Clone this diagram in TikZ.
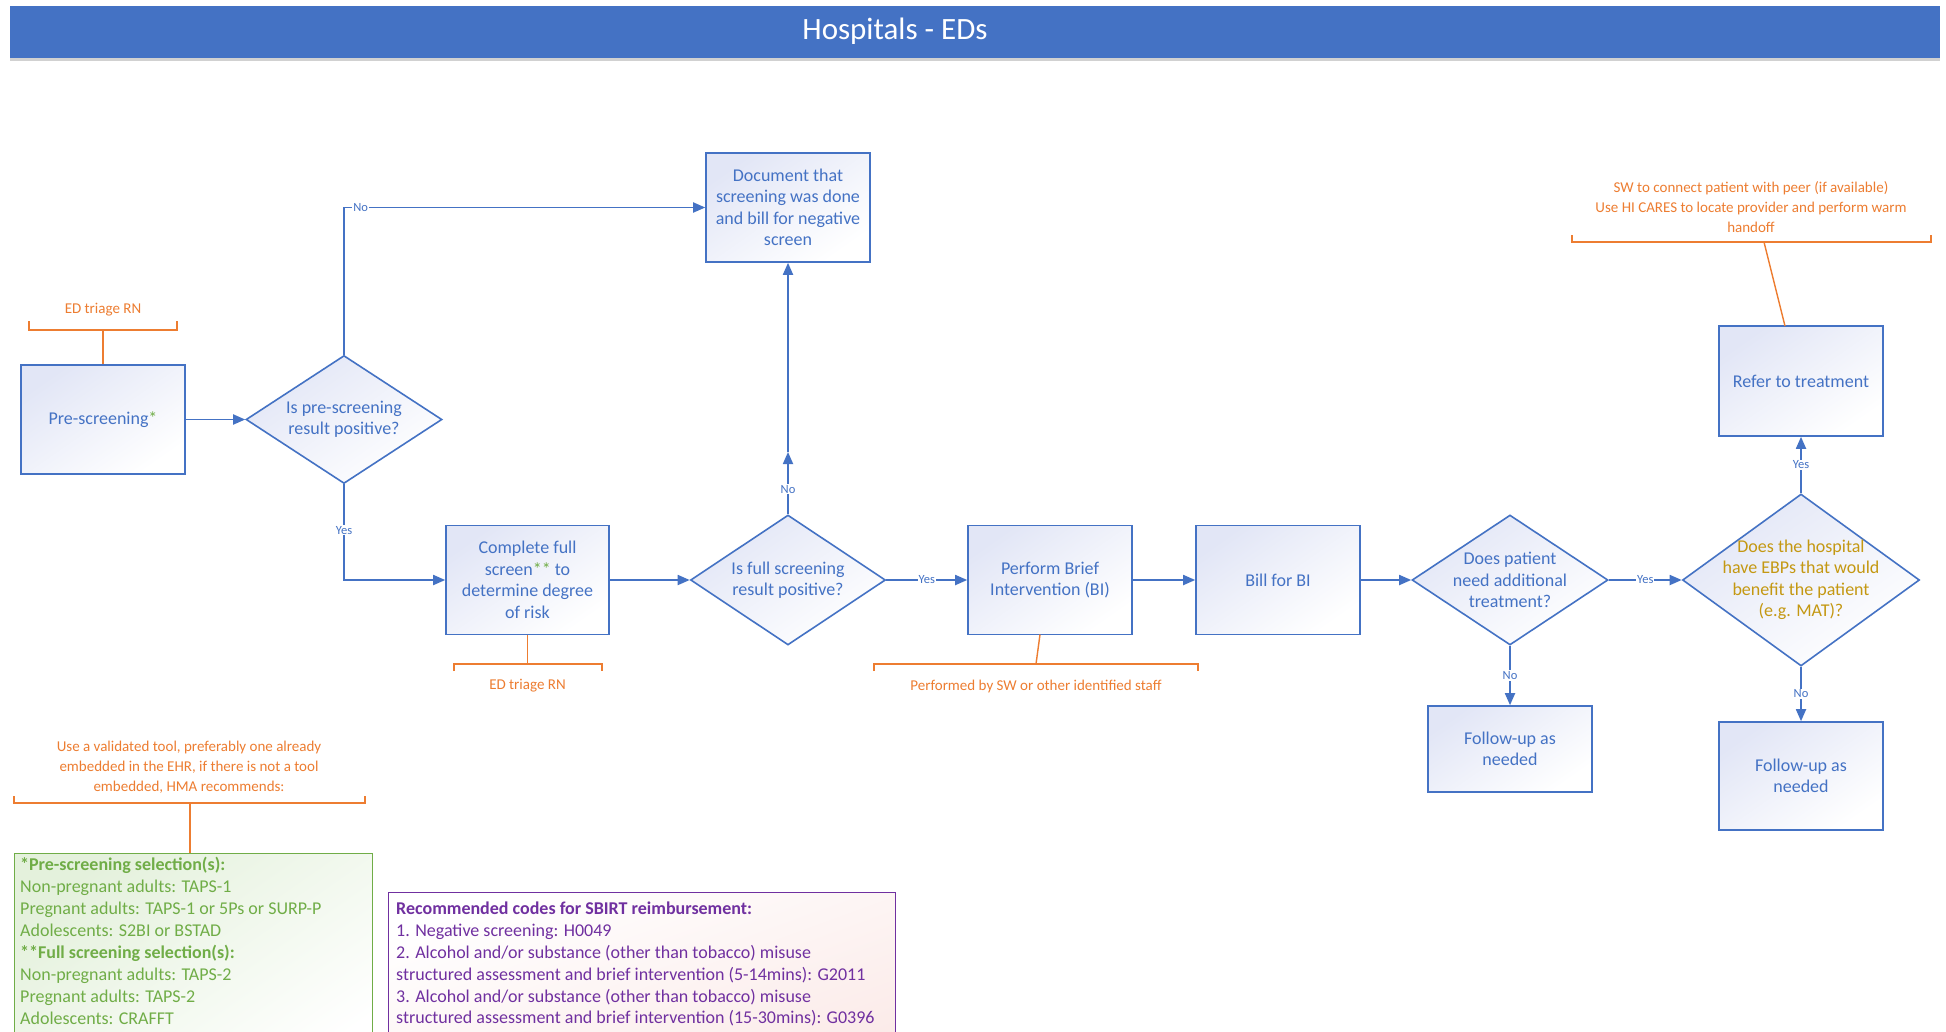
\documentclass[tikz,border=0pt]{standalone}
\usepackage{fontspec}
\setmainfont{Carlito}
\usetikzlibrary{shapes.geometric,arrows.meta,positioning}
\definecolor{edblue}{RGB}{68,114,196}
\definecolor{edorange}{RGB}{237,125,49}
\definecolor{edgreen}{RGB}{112,173,71}
\definecolor{edpurple}{RGB}{112,48,160}
\definecolor{edgold}{RGB}{196,152,18}
\definecolor{edfill}{RGB}{226,230,246}
\definecolor{grfill}{RGB}{228,241,220}
\definecolor{pufill}{RGB}{251,234,232}

\begin{document}
\begin{tikzpicture}[x=1pt,y=-1pt,
		box/.style={draw=edblue, line width=1.6pt, top color=edfill, bottom color=white, shading angle=35,
			minimum width=164, minimum height=109, inner sep=2pt, align=center, text=edblue,
			font=\fontsize{18}{21.5}\selectfont},
		dia/.style={diamond, draw=edblue, line width=1.6pt, top color=edfill, bottom color=white, shading angle=35,
			inner sep=0pt, text=edblue},
		diatext/.style={align=center, text=edblue, font=\fontsize{18}{21.5}\selectfont},
		flow/.style={draw=edblue, line width=1.8pt, -{Triangle[length=12pt,width=10pt]}},
		yn/.style={fill=white, inner sep=1pt, text=edblue, font=\fontsize{12.5}{14}\selectfont},
		note/.style={draw=edorange, line width=1.4pt},
		lbl/.style={text=edorange, align=center, font=\fontsize{15}{19.8}\selectfont}]
		\path[use as bounding box, clip] (0,0) rectangle (1946,1031);
		\fill[white] (0,0) rectangle (1946,1031);
		\fill[black!18] (10,58) rectangle (1940,61);
		\node[fill=edblue, anchor=north west, minimum width=1930, minimum height=52, inner sep=0] (bar) at (10,6) {};
		\node[text=white, font=\fontsize{31}{34}\selectfont] (title) at (895,31) {Hospitals - EDs};
		\node[box] (pre) at (103,419.5) {Pre-screening{\color{edgreen}*}};
		\node[dia, minimum width=196, minimum height=128, label={[diatext]center:Is pre-screening\\result positive?}] (pos1) at (344,419.5) {};
		\node[box] (doc) at (788,207.5) {Document that\\screening was done\\and bill for negative\\screen};
		\node[box, minimum width=163] (full) at (527.5,580) {Complete full\\screen{\color{edgreen}**} to\\determine degree\\of risk};
		\node[dia, minimum width=195, minimum height=130, label={[diatext]center:Is full screening\\result positive?}] (pos2) at (788,580) {};
		\node[box] (bi) at (1050,580) {Perform Brief\\Intervention (BI)};
		\node[box] (bill) at (1278,580) {Bill for BI};
		\node[dia, minimum width=196, minimum height=130, label={[diatext]center:Does patient\\need additional\\treatment?}] (need) at (1510,580) {};
		\node[box, minimum height=86] (fup1) at (1510,749) {Follow-up as\\needed};
		\node[dia, minimum width=237, minimum height=172, label={[diatext, text=edgold]center:Does the hospital\\have EBPs that would\\benefit the patient\\(e.g. MAT)?}] (ebp) at (1801,580) {};
		\node[box, minimum height=110] (refer) at (1801,381) {Refer to treatment};
		\node[box, minimum height=108] (fup2) at (1801,776) {Follow-up as\\needed};
		\draw[flow] (pre) -- (pos1);
		\draw[flow] (pos1.north) |- (doc.west) node[yn, pos=0.523] {No};
		\draw[flow] (pos1.south) |- (full.west) node[yn, pos=0.24] {Yes};
		\draw[flow] (full) -- (pos2);
		\coordinate (mid2) at (788,452);
		\draw[flow] (pos2.north) -- (mid2) node[yn, pos=0.4] {No};
		\draw[flow] (mid2) -- (doc.south);
		\draw[flow] (pos2) -- (bi) node[yn, midway] {Yes};
		\draw[flow] (bi) -- (bill);
		\draw[flow] (bill) -- (need);
		\draw[flow] (need) -- (ebp) node[yn, midway] {Yes};
		\draw[flow] (need) -- (fup1) node[yn, midway] {No};
		\draw[flow] (ebp) -- (refer) node[yn, midway] {Yes};
		\draw[flow] (ebp) -- (fup2) node[yn, midway] {No};
		\node[lbl] (triage1) at (103,310) {ED triage RN};
		\draw[note] (29,321) -- (29,330) -- (177,330) -- (177,321);
		\coordinate (br1) at (103,330);
		\draw[note] (br1) -- (pre);
		\node[lbl] (triage2) at (527.5,686) {ED triage RN};
		\draw[note] (454,671) -- (454,664) -- (602,664) -- (602,671);
		\coordinate (br2) at (527.5,664);
		\draw[note] (full) -- (br2);
		\node[lbl] (staff) at (1036,686) {Performed by SW or other identified staff};
		\draw[note] (874,671) -- (874,664) -- (1198,664) -- (1198,671);
		\coordinate (br3) at (1036,664);
		\coordinate (bi3) at (1040,634.5);
		\draw[note] (bi3) -- (br3);
		\node[lbl] (peer) at (1751,207) {SW to connect patient with peer (if available)\\Use HI CARES to locate provider and perform warm\\handoff};
		\draw[note] (1572,235) -- (1572,242) -- (1931,242) -- (1931,235);
		\coordinate (br4) at (1764,242);
		\coordinate (ref4) at (1785,326);
		\draw[note] (br4) -- (ref4);
		\node[lbl] (tool) at (189,767) {Use a validated tool, preferably one already\\embedded in the EHR, if there is not a tool\\embedded, HMA recommends:};
		\draw[note] (14,796) -- (14,803) -- (365,803) -- (365,796);
		\coordinate (br5) at (190,803);
		\node[draw=edgreen, line width=1.4pt, top color=grfill, bottom color=white, shading angle=35,
			anchor=north west, minimum width=358, minimum height=230] (sel) at (14,853) {};
		\draw[note] (br5) -- (br5 |- sel.north);
		\node[anchor=north west, inner sep=0pt, align=left, text=edgreen, font=\fontsize{18}{22}\selectfont] (seltext) at (20,857)
			{\textbf{*Pre-screening selection(s):}\\Non-pregnant adults: TAPS-1\\Pregnant adults: TAPS-1 or 5Ps or SURP-P\\Adolescents: S2BI or BSTAD\\\textbf{**Full screening selection(s):}\\Non-pregnant adults: TAPS-2\\Pregnant adults: TAPS-2\\Adolescents: CRAFFT};
		\node[draw=edpurple, line width=1.4pt, left color=white, right color=pufill, shading angle=20,
			anchor=north west, minimum width=507, minimum height=190] (codes) at (388,892) {};
		\node[anchor=north west, inner sep=0pt, align=left, text=edpurple, font=\fontsize{18}{21.8}\selectfont] (codetext) at (396,902)
			{\textbf{Recommended codes for SBIRT reimbursement:}\\1. Negative screening: H0049\\2. Alcohol and/or substance (other than tobacco) misuse\\structured assessment and brief intervention (5-14mins): G2011\\3. Alcohol and/or substance (other than tobacco) misuse\\structured assessment and brief intervention (15-30mins): G0396};
	\end{tikzpicture}
\end{document}
